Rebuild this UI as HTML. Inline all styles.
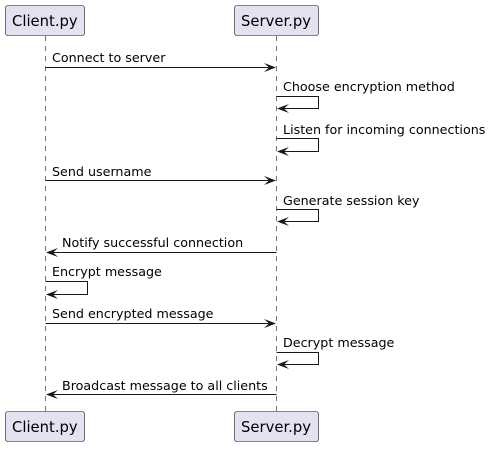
<!DOCTYPE html>
<html><head><meta charset="utf-8"><style>
html,body{margin:0;padding:0;background:#fff;}
text{font-family:"DejaVu Sans","Liberation Sans",sans-serif;font-size:12.7px;fill:#000;}
text.b{font-size:14.8px;}
</style></head><body>
<svg width="492" height="446" xmlns="http://www.w3.org/2000/svg">
<g stroke="#181818" stroke-width="0.6" stroke-dasharray="5,5">
<line x1="45.5" y1="36" x2="45.5" y2="411"/>
<line x1="276.5" y1="36" x2="276.5" y2="411"/>
</g>
<g fill="#E2E2F0" stroke="#181818" stroke-width="0.6">
<rect x="5.5" y="5.5" width="79" height="30" rx="2.5"/>
<rect x="234.5" y="5.5" width="84" height="30" rx="2.5"/>
<rect x="5.5" y="411.5" width="79" height="30" rx="2.5"/>
<rect x="234.5" y="411.5" width="84" height="30" rx="2.5"/>
</g>
<text class="b" x="12" y="26">Client.py</text>
<text class="b" x="241" y="26">Server.py</text>
<text class="b" x="12" y="432">Client.py</text>
<text class="b" x="241" y="432">Server.py</text>
<g stroke="#181818" stroke-width="1" fill="none">
<line x1="45.5" y1="67.5" x2="274" y2="67.5"/>
<polyline points="276.5,96.5 318.5,96.5 318.5,108.5 278,108.5"/>
<polyline points="276.5,138.5 318.5,138.5 318.5,151.5 278,151.5"/>
<line x1="45.5" y1="180.5" x2="274" y2="180.5"/>
<polyline points="276.5,209.5 318.5,209.5 318.5,221.5 278,221.5"/>
<line x1="276.5" y1="252.5" x2="48" y2="252.5"/>
<polyline points="45.5,281.5 87.5,281.5 87.5,294.5 47,294.5"/>
<line x1="45.5" y1="323.5" x2="274" y2="323.5"/>
<polyline points="276.5,352.5 318.5,352.5 318.5,364.5 278,364.5"/>
<line x1="276.5" y1="394.5" x2="48" y2="394.5"/>
</g>
<g fill="#181818">
<polygon points="276,67.5 264,63 269,67.5 264,72"/>
<polygon points="277,108.5 289,104 284,108.5 289,113"/>
<polygon points="277,151.5 289,147 284,151.5 289,156"/>
<polygon points="276,180.5 264,176 269,180.5 264,185"/>
<polygon points="277,221.5 289,217 284,221.5 289,226"/>
<polygon points="46,252.5 58,248 53,252.5 58,257"/>
<polygon points="46,294.5 58,290 53,294.5 58,299"/>
<polygon points="276,323.5 264,319 269,323.5 264,328"/>
<polygon points="277,364.5 289,360 284,364.5 289,369"/>
<polygon points="46,394.5 58,390 53,394.5 58,399"/>
</g>
<text x="52" y="62">Connect to server</text>
<text x="283" y="91">Choose encryption method</text>
<text x="283" y="134">Listen for incoming connections</text>
<text x="52" y="176">Send username</text>
<text x="283" y="205">Generate session key</text>
<text x="62" y="247">Notify successful connection</text>
<text x="52" y="276">Encrypt message</text>
<text x="52" y="318">Send encrypted message</text>
<text x="283" y="347">Decrypt message</text>
<text x="62" y="390">Broadcast message to all clients</text>
</svg>
</body></html>
